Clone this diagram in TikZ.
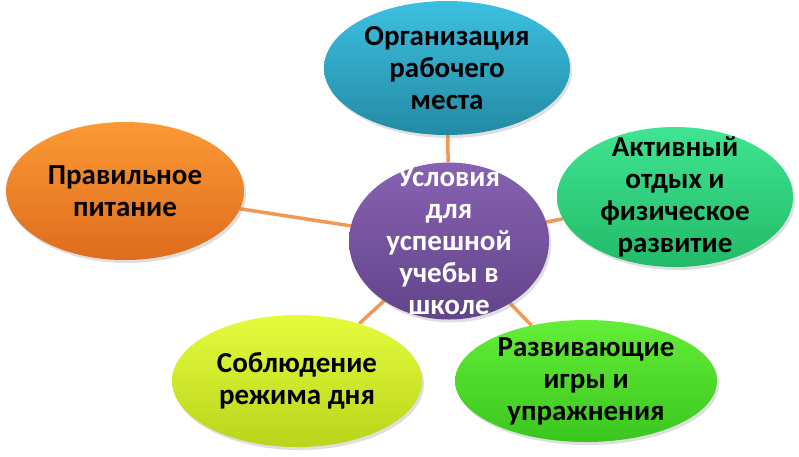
\documentclass[tikz,border=0pt]{standalone}
\usepackage{fontspec}
\setmainfont{Carlito}
\usepackage{tikz}
\usetikzlibrary{shapes.geometric,shadows,backgrounds}

\definecolor{usltop}{RGB}{136,98,178}
\definecolor{uslbot}{RGB}{98,68,138}
\definecolor{orgtop}{RGB}{60,192,224}
\definecolor{orgbot}{RGB}{36,138,164}
\definecolor{akttop}{RGB}{64,228,146}
\definecolor{aktbot}{RGB}{34,186,104}
\definecolor{pittop}{RGB}{252,154,52}
\definecolor{pitbot}{RGB}{222,108,30}
\definecolor{regtop}{RGB}{228,252,60}
\definecolor{regbot}{RGB}{186,212,28}
\definecolor{igrtop}{RGB}{100,238,56}
\definecolor{igrbot}{RGB}{58,198,30}
\definecolor{linkor}{RGB}{242,152,84}

\begin{document}
\begin{tikzpicture}[x=1pt,y=-1pt,
  bubble/.style={ellipse,inner sep=-30pt,align=center,
    font=\bfseries\fontsize{29}{32}\selectfont,
    drop shadow={shadow xshift=2pt,shadow yshift=-3pt,opacity=0.25}},
  link/.style={line width=3.5pt,linkor}]
\useasboundingbox (0,0) rectangle (799,456);
% centre
\node[bubble,top color=usltop,bottom color=uslbot,text=white,
  minimum width=200pt,minimum height=157pt] (usl) at (449,241)
  {Условия\\для\\успешной\\учебы в\\школе};
% outer bubbles
\node[bubble,top color=orgtop,bottom color=orgbot,
  minimum width=246pt,minimum height=134pt] (org) at (447,68)
  {Организация\\рабочего\\места};
\node[bubble,top color=akttop,bottom color=aktbot,
  minimum width=236pt,minimum height=140pt] (akt) at (675,197)
  {Активный\\отдых и\\физическое\\развитие};
\node[bubble,top color=pittop,bottom color=pitbot,
  minimum width=238pt,minimum height=138pt] (pit) at (125,191)
  {Правильное\\питание};
\node[bubble,top color=regtop,bottom color=regbot,
  minimum width=250pt,minimum height=132pt] (reg) at (297,381)
  {Соблюдение\\режима дня};
\node[bubble,top color=igrtop,bottom color=igrbot,
  minimum width=262pt,minimum height=122pt] (igr) at (586,381)
  {Развивающие\\игры и\\упражнения};
% links
\begin{scope}[on background layer]
\foreach \b in {org,akt,pit,reg,igr}{\draw[link] (usl) -- (\b);}
\end{scope}
\end{tikzpicture}
\end{document}
